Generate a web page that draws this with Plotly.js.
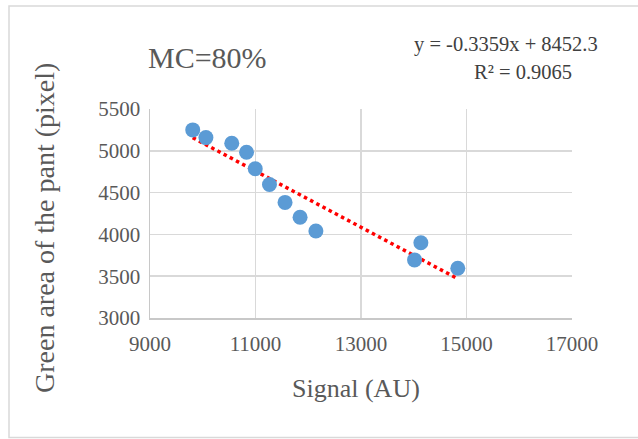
<!DOCTYPE html>
<html>
<head>
<meta charset="utf-8">
<script src="https://cdn.plot.ly/plotly-3.0.1.min.js"></script>
<style>html,body{margin:0;padding:0;background:#fff;}#chart{width:638px;height:439px;}</style>
</head>
<body>
<div id="chart"></div>
<script>
// Data
const signalAU = [9810, 10060, 10550, 10830, 10995, 11265, 11560, 11845, 12145, 14015, 14135, 14835];
const greenArea = [5250, 5158, 5090, 4982, 4785, 4596, 4383, 4206, 4041, 3695, 3900, 3595];
// Linear trendline as displayed on the chart
const slope = -0.3359;
const intercept = 8452.3;
const equationText = "y = -0.3359x + 8452.3";
const r2Text = "R² = 0.9065";
const chartTitle = "MC=80%";
const xTitle = "Signal (AU)";
const yTitle = "Green area of the pant (pixel)";
const xTicks = [9000, 11000, 13000, 15000, 17000];
const yTicks = [3000, 3500, 4000, 4500, 5000, 5500];

const xMin = Math.min(...signalAU), xMax = Math.max(...signalAU);
const trendX = [xMin, xMax];
const trendY = trendX.map(v => slope * v + intercept);

const W = 638, H = 439;
const M = {l: 150, r: 66, t: 109, b: 121};
const pw = W - M.l - M.r, ph = H - M.t - M.b;
const px = v => (v - M.l) / pw;          // pixel x -> paper x
const py = v => (H - M.b - v) / ph;       // pixel y -> paper y

const font = 'Liberation Serif, Times New Roman, serif';
const txt = '#595959';

const traces = [
  {x: trendX, y: trendY, mode: 'lines', type: 'scatter',
   line: {color: '#ff0000', width: 3.5, dash: 'dot'}, hoverinfo: 'skip'},
  {x: signalAU, y: greenArea, mode: 'markers', type: 'scatter',
   marker: {color: '#5b9bd5', size: 15, line: {width: 0}}}
];

function ann(text, x, y, size, color, extra) {
  return Object.assign({text: text, xref: 'paper', yref: 'paper', x: px(x), y: py(y),
    xanchor: 'center', yanchor: 'middle', showarrow: false,
    font: {family: font, size: size, color: color}}, extra || {});
}

const layout = {
  width: W, height: H,
  margin: M,
  paper_bgcolor: '#fff', plot_bgcolor: '#fff',
  showlegend: false,
  font: {family: font, color: txt, size: 21},
  xaxis: {range: [9000, 17000], tickvals: xTicks, ticktext: xTicks.map(String),
          showgrid: true, gridcolor: '#d9d9d9', gridwidth: 1.5,
          showline: true, linecolor: '#c8c8c8', linewidth: 1.5,
          zeroline: false, ticks: '', ticklabelstandoff: 6,
          tickfont: {family: font, size: 21, color: txt}},
  yaxis: {range: [3000, 5500], tickvals: yTicks, ticktext: yTicks.map(String),
          showgrid: true, gridcolor: '#d9d9d9', gridwidth: 1.5,
          showline: true, linecolor: '#c8c8c8', linewidth: 1.5,
          zeroline: false, ticks: '', ticklabelstandoff: 4,
          tickfont: {family: font, size: 21, color: txt}},
  shapes: [
    {type: 'rect', xref: 'paper', yref: 'paper', layer: 'below',
     x0: px(9), x1: px(645), y0: py(437.5), y1: py(6),
     line: {color: '#d9d9d9', width: 1.5}, fillcolor: 'rgba(0,0,0,0)'}
  ],
  annotations: [
    ann(chartTitle, 207, 57, 30, txt),
    ann(equationText, 506, 45, 20.5, '#404040'),
    ann(r2Text, 523, 72, 20.5, '#404040'),
    ann(xTitle, 356, 388, 26, txt),
    ann(yTitle, 44, 228, 28, txt, {textangle: -90})
  ]
};

Plotly.newPlot('chart', traces, layout, {displayModeBar: false, staticPlot: true});
</script>
</body>
</html>
